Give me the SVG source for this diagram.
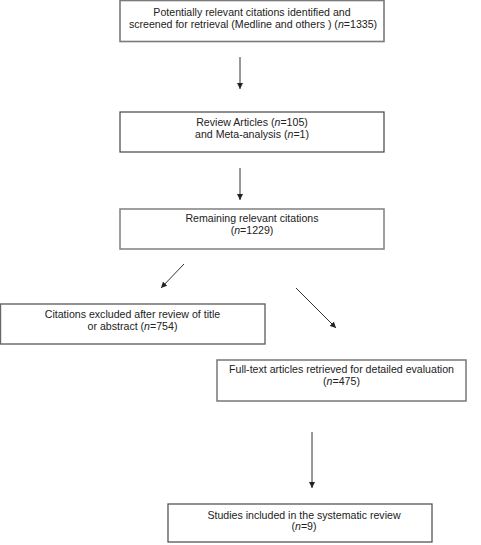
<svg xmlns="http://www.w3.org/2000/svg" width="481" height="545" viewBox="0 0 481 545">
<defs>
<style>
.box{fill:#fff;stroke:#666;stroke-width:1.4}
.t{font-family:"Liberation Sans",Arial,sans-serif;font-size:10.6px;fill:#222;text-anchor:middle}
.i{font-style:italic}
.c{stroke:#333;stroke-width:1;fill:none;marker-end:url(#ah)}
</style>
<marker id="ah" viewBox="0 0 10 10" refX="10" refY="5" markerWidth="6" markerHeight="6" orient="auto" markerUnits="userSpaceOnUse">
<path d="M0,0 L10,5 L0,10 z" fill="#222"/>
</marker>
</defs>
<rect width="481" height="545" fill="#fff"/>
<g id="connectors">
<line class="c" x1="240" y1="57" x2="240" y2="89"/>
<line class="c" x1="240" y1="168" x2="240" y2="200"/>
<line class="c" x1="184" y1="264" x2="161" y2="288"/>
<line class="c" x1="296" y1="288" x2="336" y2="328"/>
<line class="c" x1="312" y1="432" x2="312" y2="488"/>
</g>
<g id="n1">
<rect class="box" x="120" y="0.5" width="264" height="41" style="stroke:#7a7a7a;stroke-width:1.6"/>
<text class="t" x="252" y="16">Potentially relevant citations identified and</text>
<text class="t" x="253" y="28">screened for retrieval (Medline and others ) (<tspan class="i">n</tspan>=1335)</text>
</g>
<g id="n2">
<rect class="box" x="120" y="112" width="264" height="40" style="stroke:#444;stroke-width:1.2"/>
<text class="t" x="252" y="126">Review Articles (<tspan class="i">n</tspan>=105)</text>
<text class="t" x="252" y="138">and Meta-analysis (<tspan class="i">n</tspan>=1)</text>
</g>
<g id="n3">
<rect class="box" x="120" y="209" width="264" height="40" style="stroke:#888;stroke-width:1.6"/>
<text class="t" x="252" y="222">Remaining relevant citations</text>
<text class="t" x="252" y="234">(<tspan class="i">n</tspan>=1229)</text>
</g>
<g id="n4">
<rect class="box" x="0.5" y="304" width="264.5" height="40" style="stroke:#666"/>
<text class="t" x="132.5" y="318">Citations excluded after review of title</text>
<text class="t" x="132.5" y="330">or abstract (<tspan class="i">n</tspan>=754)</text>
</g>
<g id="n5">
<rect class="box" x="217" y="360" width="249" height="41" style="stroke:#777;stroke-width:1.5"/>
<text class="t" x="341.5" y="373">Full-text articles retrieved for detailed evaluation</text>
<text class="t" x="341.5" y="385">(<tspan class="i">n</tspan>=475)</text>
</g>
<g id="n6">
<rect class="box" x="168" y="504" width="264" height="38" style="stroke:#555;stroke-width:1.3"/>
<text class="t" x="304" y="519">Studies included in the systematic review</text>
<text class="t" x="304" y="530">(<tspan class="i">n</tspan>=9)</text>
</g>
</svg>
